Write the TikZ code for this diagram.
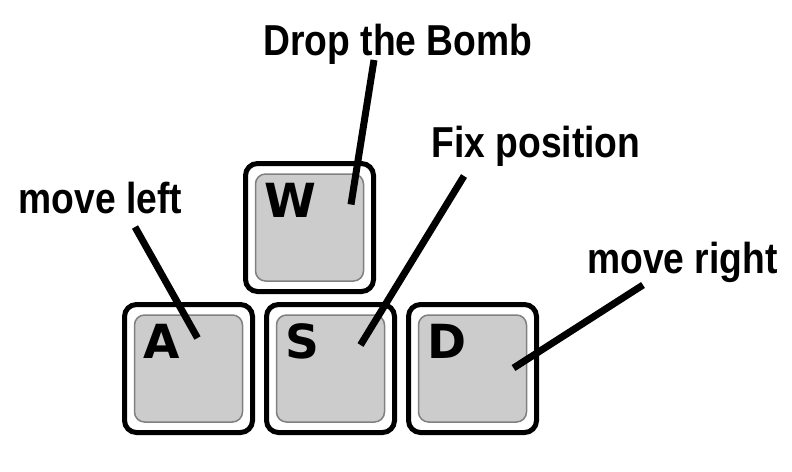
\documentclass[tikz,border=0pt]{standalone}
\usepackage{fontspec}
\newfontfamily\calloutfont{Liberation Sans}[FakeStretch=0.86]
\newfontfamily\keycapfont{DejaVu Sans}
\begin{document}
\begin{tikzpicture}[x=1pt, y=-1pt, node distance=142pt,
    keyframe/.style={draw=black, line width=5pt, fill=white, rounded corners=12pt, minimum width=128pt, minimum height=128pt, inner sep=0pt},
    keyface/.style={draw=black!50, line width=1.5pt, fill=black!20, rounded corners=10pt, minimum width=108pt, minimum height=107pt, inner sep=0pt, outer sep=0pt},
    keyletter/.style={anchor=base west, inner sep=0pt, font=\keycapfont\bfseries\fontsize{47}{50}\selectfont},
    callout/.style={anchor=base, inner sep=0pt, font=\calloutfont\bfseries\fontsize{43.3}{50}\selectfont},
    pointer/.style={line width=7pt, color=black}]

    \useasboundingbox (0,0) rectangle (792,471);

    \node (keyW) [keyframe] at (309.5,227.5) {};
    \node (keyA) [keyframe] at (188.5,368.5) {};
    \node (keyS) [keyframe, right of=keyA] {};
    \node (keyD) [keyframe, right of=keyS] {};

    \node (faceW) [keyface] at (keyW) {};
    \node (faceA) [keyface] at (keyA) {};
    \node (faceS) [keyface] at (keyS) {};
    \node (faceD) [keyface] at (keyD) {};

    \node (letW) [keyletter] at ([shift={(9,43)}]faceW.north west) {W};
    \node (letA) [keyletter] at ([shift={(9,43)}]faceA.north west) {A};
    \node (letS) [keyletter] at ([shift={(9,43)}]faceS.north west) {S};
    \node (letD) [keyletter] at ([shift={(9,43)}]faceD.north west) {D};

    \node (bomb) [callout] at (398,55) {Drop the Bomb};
    \node (fix) [callout] at (536,157) {Fix position};
    \node (left) [callout] at (100.5,213) {move left};
    \node (right) [callout] at (682.5,273) {move right};

    \coordinate (bombEnd) at ([shift={(-24,5)}]bomb.base);
    \coordinate (fixEnd) at ([shift={(-72,19)}]fix.base);
    \coordinate (leftEnd) at ([shift={(34.5,14)}]left.base);
    \coordinate (rightEnd) at ([shift={(-39.5,12)}]right.base);

    \coordinate (tipW) at ([shift={(41.5,-23)}]faceW.center);
    \coordinate (tipA) at ([shift={(9,-30.5)}]faceA.center);
    \coordinate (tipS) at ([shift={(30,-23.5)}]faceS.center);
    \coordinate (tipD) at ([shift={(41,-0.5)}]faceD.center);

    \draw [pointer] (bombEnd) -- (tipW);
    \draw [pointer] (fixEnd) -- (tipS);
    \draw [pointer] (leftEnd) -- (tipA);
    \draw [pointer] (rightEnd) -- (tipD);
\end{tikzpicture}
\end{document}
